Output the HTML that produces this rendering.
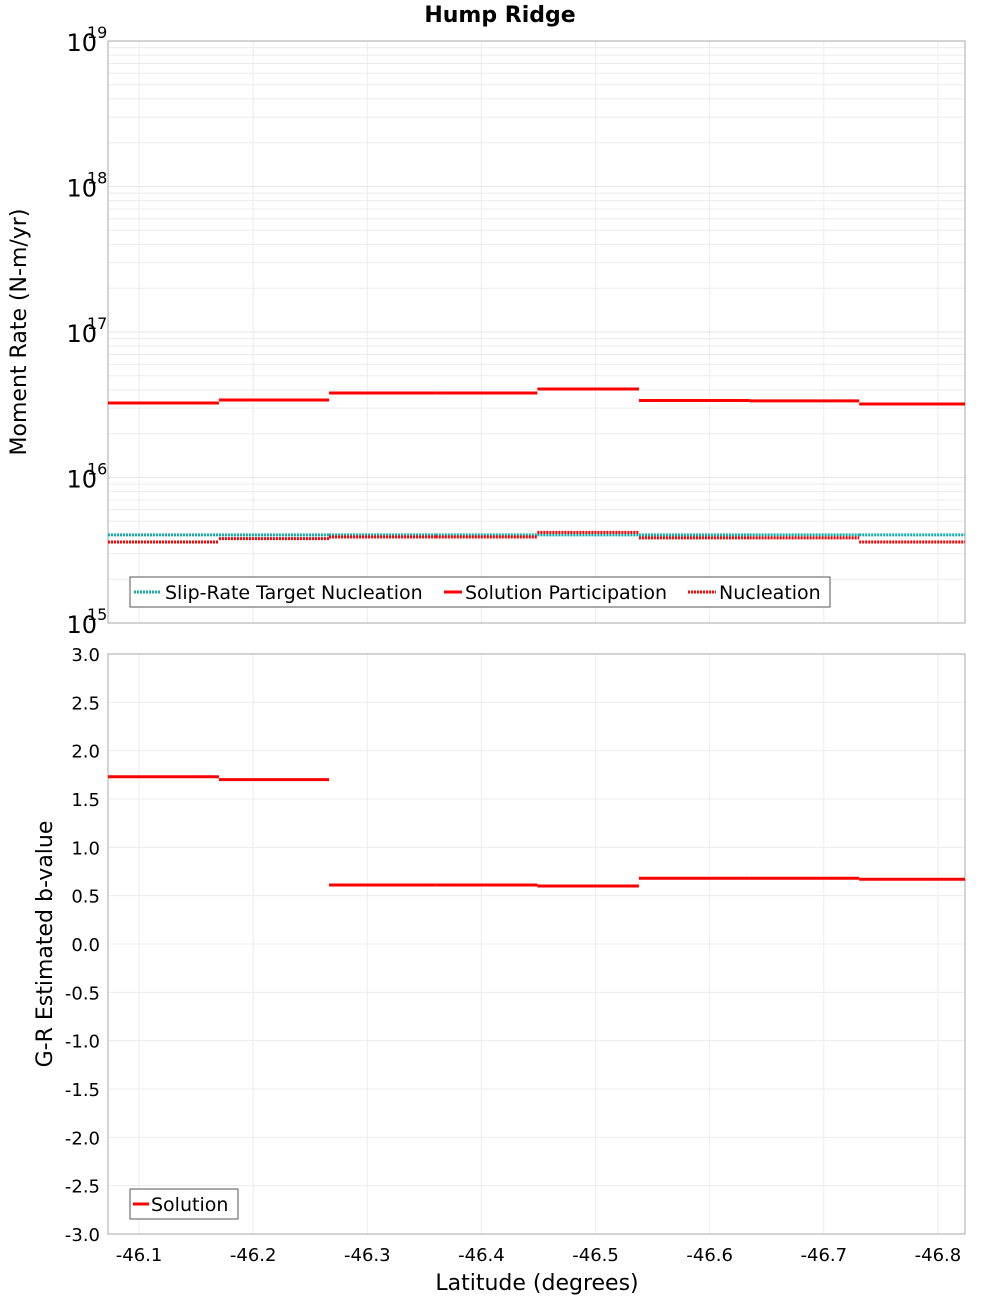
<!DOCTYPE html>
<html><head><meta charset="utf-8"><style>
body{margin:0;background:#fff}
svg{display:block;font-family:"DejaVu Sans","Liberation Sans",sans-serif}
</style></head><body>
<svg id="c" width="1000" height="1300"></svg>
<script>
const edges=[-46.0728,-46.170,-46.2665,-46.360,-46.449,-46.538,-46.635,-46.731,-46.8237];
const participation=[3.25e16,3.41e16,3.81e16,3.81e16,4.06e16,3.38e16,3.36e16,3.20e16];
const target=[4.03e15,4.03e15,4.03e15,4.03e15,4.03e15,4.03e15,4.03e15,4.03e15];
const nucleation=[3.6e15,3.8e15,3.9e15,3.9e15,4.2e15,3.85e15,3.85e15,3.6e15];
const bvalue=[1.73,1.70,0.61,0.61,0.60,0.68,0.68,0.67];
const xTicks=[-46.1,-46.2,-46.3,-46.4,-46.5,-46.6,-46.7,-46.8];
const bTicks=[3,2.5,2,1.5,1,0.5,0,-0.5,-1,-1.5,-2,-2.5,-3];
const decades=[15,16,17,18,19];
const NS="http://www.w3.org/2000/svg",svg=document.getElementById('c');
const L=108,R=965,T1=41,B1=623,T2=654,B2=1234,xmin=-46.0728,xmax=-46.8237;
const X=v=>L+(v-xmin)/(xmax-xmin)*(R-L);
const Y1=v=>B1-(Math.log10(v)-15)/4*(B1-T1);
const Y2=v=>B2-(v+3)/6*(B2-T2);
function el(t,a,p){const e=document.createElementNS(NS,t);for(const k in a)e.setAttribute(k,a[k]);(p||svg).appendChild(e);return e;}
function txt(s,a){const e=el('text',a);e.textContent=s;return e;}
for(let d=15;d<19;d++)for(let m=2;m<10;m++){const y=Y1(m*Math.pow(10,d));
const g=el('line',{x1:L,x2:R,y1:y,y2:y,stroke:'#ececec'});

}
decades.forEach(d=>{const y=Y1(Math.pow(10,d));
const g=el('line',{x1:L,x2:R,y1:y,y2:y,stroke:'#e6e6e6'});


const t=txt('10',{x:97,y:y+10,'text-anchor':'end','font-size':24});


const s=txt(String(d),{x:87,y:y-3,'font-size':16});

});
bTicks.forEach(v=>{const y=Y2(v);
const g=el('line',{x1:L,x2:R,y1:y,y2:y,stroke:'#ececec'});


const t=txt(v.toFixed(1),{x:100,y:y+7,'text-anchor':'end','font-size':18});

});
xTicks.forEach(v=>{const x=X(v);
[[T1,B1],[T2,B2]].forEach(([a,b])=>{const g=el('line',{x1:x,x2:x,y1:a,y2:b,stroke:'#ececec'});

});
const t=txt(v.toFixed(1),{x:x,y:1261,'text-anchor':'middle','font-size':18});

});
[[T1,B1],[T2,B2]].forEach(([a,b])=>{const r=el('rect',{x:L,y:a,width:R-L,height:b-a,fill:'none',stroke:'#aaa'});

});
function steps(vals,Y,stroke,dash,name,w){vals.forEach((v,i)=>{
const ln=el('line',{x1:X(edges[i]),x2:X(edges[i+1]),y1:Y(v),y2:Y(v),stroke:stroke,'stroke-width':w||3,'stroke-dasharray':dash||'none'});

});}
steps(target,Y1,'#1aacac','2 1','target-nucleation-step',3);
steps(nucleation,Y1,'#f00','2 1','nucleation-step',3);
steps(participation,Y1,'#f00',null,'participation-step',3);
steps(bvalue,Y2,'#f00',null,'b-value-step',3);
let t=txt('Hump Ridge',{x:500,y:22,'text-anchor':'middle','font-size':22,'font-weight':'bold'});

t=txt('Moment Rate (N-m/yr)',{x:0,y:0,'text-anchor':'middle','font-size':22,transform:'translate(26,332) rotate(-90)'});

t=txt('G-R Estimated b-value',{x:0,y:0,'text-anchor':'middle','font-size':22,transform:'translate(52,944) rotate(-90)'});

t=txt('Latitude (degrees)',{x:537,y:1290,'text-anchor':'middle','font-size':22});

let g=el('g',{});
el('rect',{x:130,y:577,width:700,height:30,fill:'#fff',stroke:'#555'},g);
el('line',{x1:134,x2:160,y1:592,y2:592,stroke:'#1aacac','stroke-width':3,'stroke-dasharray':'2 1'},g);
let s=txt('Slip-Rate Target Nucleation',{x:165,y:599,'font-size':19});g.appendChild(s);
el('line',{x1:444,x2:462,y1:592,y2:592,stroke:'#f00','stroke-width':3},g);
s=txt('Solution Participation',{x:465,y:599,'font-size':19});g.appendChild(s);
el('line',{x1:688,x2:716,y1:592,y2:592,stroke:'#f00','stroke-width':3,'stroke-dasharray':'2 1'},g);
s=txt('Nucleation',{x:719,y:599,'font-size':19});g.appendChild(s);
g=el('g',{});
el('rect',{x:130,y:1189,width:108,height:30,fill:'#fff',stroke:'#555'},g);
el('line',{x1:133,x2:149,y1:1204,y2:1204,stroke:'#f00','stroke-width':3},g);
s=txt('Solution',{x:151,y:1211,'font-size':19});g.appendChild(s);
</script>
</body></html>
